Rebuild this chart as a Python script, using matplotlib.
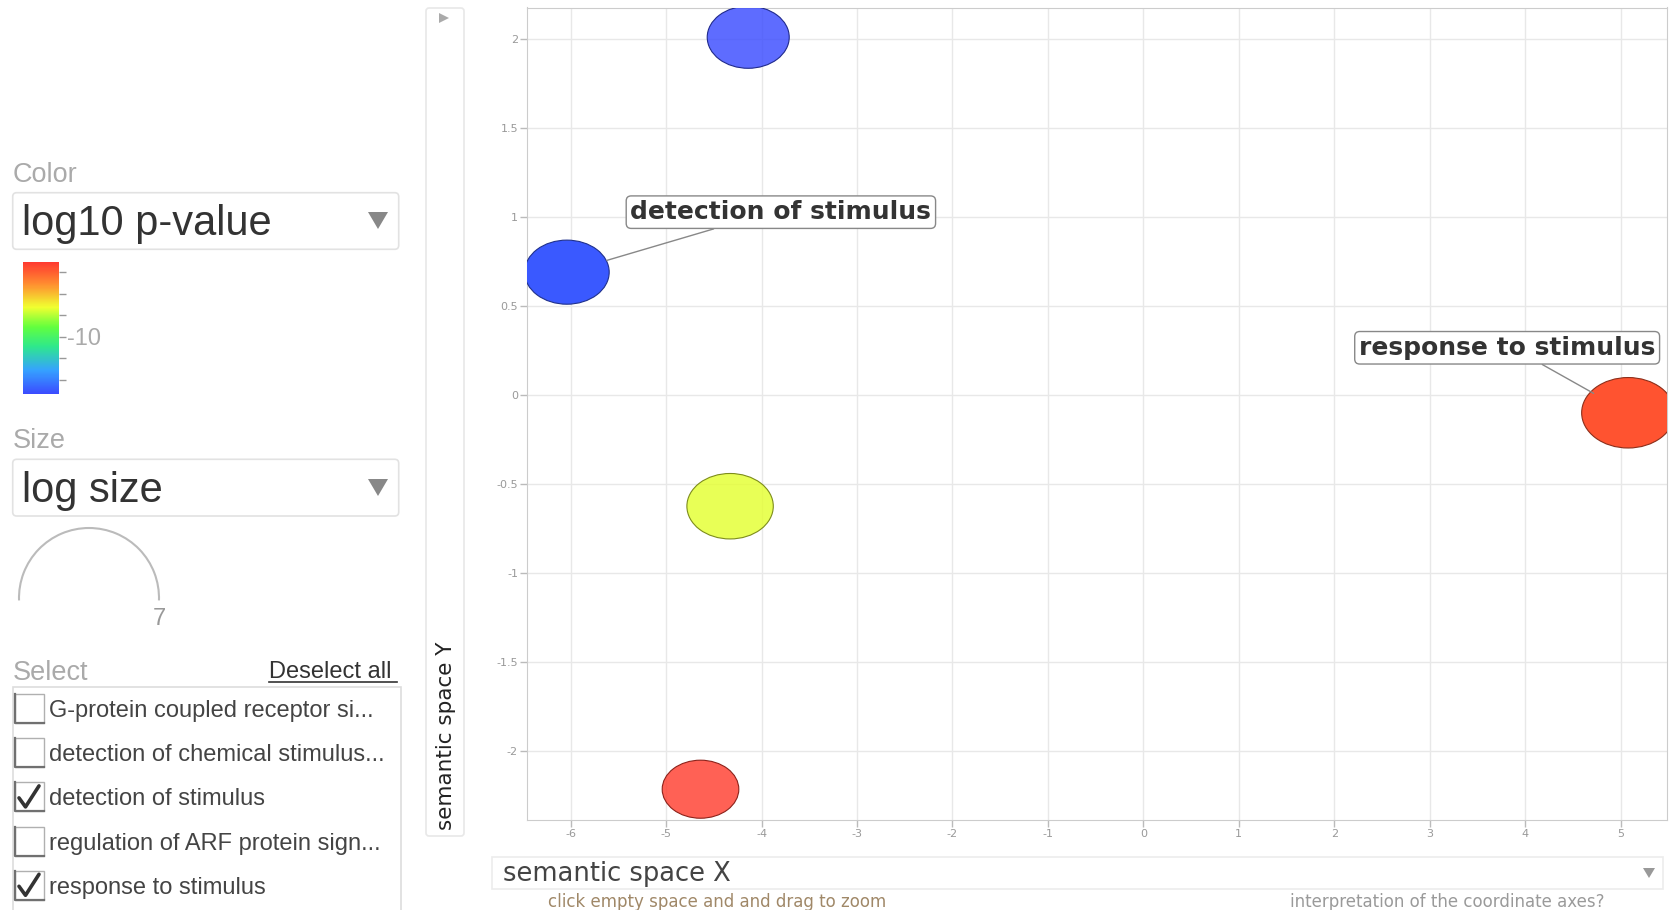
import numpy as np
import matplotlib
matplotlib.use("Agg")
import matplotlib.pyplot as plt
from matplotlib.colors import LinearSegmentedColormap, Normalize
from matplotlib.cm import ScalarMappable
from matplotlib.patches import Rectangle, FancyBboxPatch, Arc, Polygon
from matplotlib.path import Path
from matplotlib.transforms import Affine2D

W, H = 1669, 910

# GO terms placed in semantic space
terms = ["G-protein coupled receptor si...",
         "detection of chemical stimulus...",
         "detection of stimulus",
         "regulation of ARF protein sign...",
         "response to stimulus"]
sem_x = [-4.33, -4.14, -6.04, -4.64, 5.08]
sem_y = [-0.625, 2.01, 0.69, -2.215, -0.10]
log10_pvalue = [-7.4, -15.3, -14.95, -3.2, -3.75]
log_size = [4.32, 4.1, 4.23, 3.83, 4.65]
selected = [False, False, True, False, True]

x_ticks = [-6, -5, -4, -3, -2, -1, 0, 1, 2, 3, 4, 5]
y_ticks = [-2, -1.5, -1, -0.5, 0, 0.5, 1, 1.5, 2]
cbar_ticks = [-14, -12, -10, -8, -6, -4]
cbar_labels = ["", "", "-10", "", "", ""]
legend_size = 7

plt.rcParams["font.family"] = ["Liberation Sans", "DejaVu Sans"]

cmap = LinearSegmentedColormap.from_list("revigo", [
    (0.00, "#3b4cff"), (0.18, "#35a2ff"), (0.36, "#2ee88c"),
    (0.51, "#62ff3e"), (0.66, "#f0ff30"), (0.84, "#ff8a30"),
    (1.00, "#ff3a30")])
norm = Normalize(vmin=-15.3, vmax=-3.1)

fig = plt.figure(figsize=(W / 100, H / 100), dpi=100, facecolor="white")

# full-figure layer in pixel units for the side panel widgets
ui = fig.add_axes([0, 0, 1, 1], zorder=0)
ui.set_xlim(0, W)
ui.set_ylim(H, 0)
ui.axis("off")

label_gray = "#aaaaaa"
ui.text(13, 182, "Color", fontsize=19.5, color=label_gray)
ui.add_patch(FancyBboxPatch((12.7, 192.7), 386, 56.6,
                            boxstyle="round,pad=0,rounding_size=4",
                            fc="white", ec="#e2e2e2", lw=1.2))
ui.text(21.7, 235, "log10 p-value", fontsize=30, color="#333333")
ui.add_patch(Polygon([(368, 212), (388, 212), (378, 229)], fc="#888888", ec="none"))

ui.text(13, 448, "Size", fontsize=19.5, color=label_gray)
ui.add_patch(FancyBboxPatch((12.7, 459.3), 386, 56.7,
                            boxstyle="round,pad=0,rounding_size=4",
                            fc="white", ec="#e2e2e2", lw=1.2))
ui.text(21.7, 501.7, "log size", fontsize=30, color="#333333")
ui.add_patch(Polygon([(368, 479), (388, 479), (378, 496)], fc="#888888", ec="none"))

# size legend: radius of 10 px per unit of log size
r_leg = 10 * legend_size
ui.add_patch(Arc((89, 598), 2 * r_leg, 2 * r_leg, theta1=178, theta2=362,
                 color="#bbbbbb", lw=1.5))
ui.text(159, 625, str(legend_size), fontsize=17, color="#999999", ha="center")

ui.text(13, 680, "Select", fontsize=19.5, color=label_gray)
ui.text(269, 678, "Deselect all", fontsize=17, color="#333333")
ui.plot([269, 397], [681.5, 681.5], color="#333333", lw=1.2)
ui.add_patch(Rectangle((12.7, 687), 388, 240, fc="white", ec="#dddddd", lw=1.2))

for i, (name, sel) in enumerate(zip(terms, selected)):
    cy = 708.5 + i * 44.2
    ui.add_patch(Rectangle((15, cy - 14.5), 29, 29, fc="white", ec="#b0b0b0", lw=1))
    ui.plot([15, 15, 44], [cy - 14.5, cy + 14.5, cy + 14.5], color="#707070", lw=1.6)
    if sel:
        ui.plot([19, 25.5, 39], [cy + 1, cy + 10, cy - 11], color="#333333",
                lw=2.6, solid_capstyle="round", solid_joinstyle="round")
    ui.text(49, cy + 8.5, name, fontsize=17, color="#444444")

# axis title panels
ui.add_patch(FancyBboxPatch((426, 8), 38, 828, boxstyle="round,pad=0,rounding_size=3",
                            fc="white", ec="#e8e8e8", lw=1.2))
ui.add_patch(Polygon([(439, 13), (439, 23), (449, 18)], fc="#aaaaaa", ec="none"))
ui.text(446, 736, "semantic space Y", rotation=90, ha="center", va="center",
        fontsize=15.5, color="#222222", family="DejaVu Sans")

ui.add_patch(Rectangle((492, 857), 1171, 32, fc="white", ec="#ececec", lw=1.2))
ui.text(503, 874, "semantic space X", va="center", fontsize=18.5,
        color="#444444", family="DejaVu Sans")
ui.add_patch(Polygon([(1643, 868), (1655, 868), (1649, 878)], fc="#999999", ec="none"))
ui.text(548, 902, "click empty space and and drag to zoom", va="center",
        fontsize=12, color="#a08868", family="DejaVu Sans")
ui.text(1290, 902, "interpretation of the coordinate axes?", va="center",
        fontsize=12, color="#9a9a9a", family="DejaVu Sans")

# colour legend
cax = fig.add_axes([22.7 / W, 1 - 394 / H, 36 / W, 131.7 / H], zorder=2)
cb = fig.colorbar(ScalarMappable(norm=norm, cmap=cmap), cax=cax, ticks=cbar_ticks)
cb.outline.set_visible(False)
cb.ax.set_yticklabels(cbar_labels)
cax.tick_params(length=5, width=1, color="#999999", labelsize=17,
                labelcolor=label_gray, pad=1)

# bubble chart
ax = fig.add_axes([527 / W, 1 - 820 / H, (1667 - 527) / W, (820 - 7.5) / H], zorder=1)
ax.set_facecolor("white")
ax.set_xlim(-6.458, 5.487)
ax.set_ylim(-2.388, 2.177)
ax.set_xticks(x_ticks)
ax.set_xticklabels([f"{v:g}" for v in x_ticks])
ax.set_yticks(y_ticks)
ax.set_yticklabels([f"{v:g}" for v in y_ticks])
ax.grid(True, color="#e8e8e8", lw=1)
ax.set_axisbelow(True)
for s in ax.spines.values():
    s.set_color("#cccccc")
ax.tick_params(length=5, width=1, color="#bbbbbb", labelsize=8,
               labelcolor="#999999", pad=1.5)
for lab in ax.get_xticklabels() + ax.get_yticklabels():
    lab.set_family("DejaVu Sans")

ellipse = Affine2D().scale(1.32, 1.0).transform_path(Path.unit_circle())
rgba = cmap(norm(np.array(log10_pvalue)))
face = rgba.copy()
face[:, 3] = np.where(selected, 1.0, 0.82)
edge = rgba.copy()
edge[:, :3] *= 0.55
sizes = (2 * 10 * np.array(log_size) * 72 / 100) ** 2
ax.scatter(sem_x, sem_y, s=sizes, marker=ellipse, c=face, edgecolors=edge,
           linewidths=0.8, zorder=3)

label_layout = {2: ((214, 60), (0.33, 0.0), 30),
                4: ((-121, 65), (0.59, 0.0), 28.5)}
for i, (offset, relpos, shrink) in label_layout.items():
    ax.annotate(terms[i], xy=(sem_x[i], sem_y[i]), xytext=offset,
                textcoords="offset pixels", ha="center", va="center",
                fontsize=18, fontweight="bold", color="#333333",
                family="DejaVu Sans", zorder=4,
                bbox=dict(boxstyle="round,pad=0.17,rounding_size=0.2",
                          fc="white", ec="#888888", lw=1),
                arrowprops=dict(arrowstyle="-", color="#888888", lw=1,
                                relpos=relpos, shrinkA=0, shrinkB=shrink))

fig.savefig("out.png", dpi=100, facecolor="white")
